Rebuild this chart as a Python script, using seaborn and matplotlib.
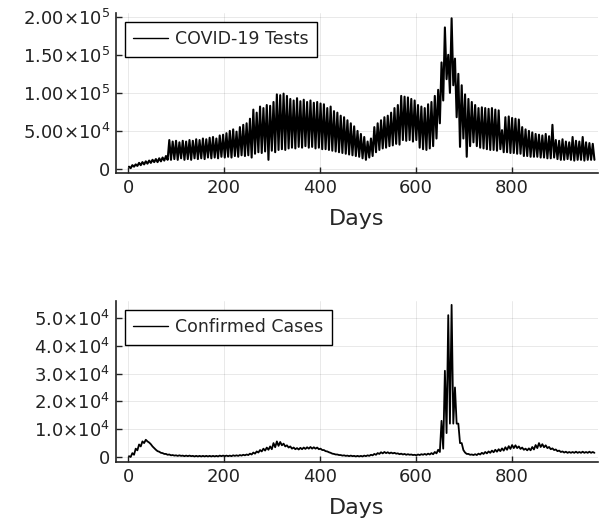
import numpy as np
import pandas as pd
import matplotlib
matplotlib.use("Agg")
import matplotlib.pyplot as plt
import seaborn as sns

# ---------------- data ----------------
# Weekly high / low of daily COVID-19 tests (thousands), week w starts at day 7*w
tests_high = [3, 5, 6, 8, 9, 10, 11, 12, 13, 14, 15, 17,
              38, 36, 37, 35, 37, 36, 38, 37, 39, 38, 40, 39, 41, 42, 40, 44, 45,
              47, 50, 52, 49, 55, 58, 60, 66,
              78, 74, 82, 80, 84, 83, 88,
              98, 97, 99, 96,
              92, 90, 93, 89, 91, 88, 90, 87, 88, 86,
              85, 80, 82, 76, 74, 70, 68, 64, 60, 56, 50, 46, 42,
              36, 40,
              55, 60, 64, 68, 70, 74, 80, 84,
              96, 95, 94, 92, 90,
              84, 82, 80, 85, 88,
              96, 104, 140, 186, 150, 198, 145, 125, 110, 98, 92,
              88, 84, 80, 81, 80, 79, 80, 78, 77,
              51,
              68, 69, 67, 66, 65,
              55, 52, 50, 48, 46,
              45, 44, 46, 43, 58,
              38, 37, 39, 36, 35, 42, 37, 36, 42, 35, 34, 33]
tests_low = [1, 3, 4, 5, 6, 7, 8, 9, 9, 10, 11, 12,
             12, 13, 12, 14, 12, 13, 12, 14, 13, 14, 13, 15, 14, 15, 14, 16, 15,
             16, 15, 17, 16, 18, 17, 18, 15,
             20, 22, 21, 23, 12, 24, 22,
             25, 26, 25, 27,
             28, 27, 29, 28, 30, 28, 29, 27, 28, 26,
             26, 25, 24, 23, 22, 21, 20, 19, 18, 17, 16, 14, 12,
             15, 17,
             22, 25, 27, 28, 30, 31, 33, 32,
             38, 37, 38, 36, 38,
             28, 26, 25, 27, 30,
             40, 60, 90, 118, 100, 110, 68, 29, 40, 16, 30,
             35, 30, 28, 27, 26, 25, 25, 24, 26,
             22,
             22, 21, 21, 20, 20,
             17, 17, 16, 16, 16,
             15, 15, 14, 14, 15,
             13, 12, 12, 13, 12, 11, 12, 12, 11, 12, 12, 12]

# Weekly high / low of daily confirmed cases (thousands)
cases_high = [0.3, 1.4, 3.0, 4.5, 5.6, 6.2, 5.2, 3.8, 2.6, 1.9, 1.4, 1.1, 0.9,
              0.7, 0.6, 0.6, 0.5, 0.5, 0.5, 0.4, 0.4, 0.4, 0.4, 0.4, 0.4, 0.4, 0.4,
              0.5, 0.5, 0.5, 0.5, 0.6, 0.6, 0.7, 0.8, 0.9,
              1.2, 1.6, 2.0, 2.5, 3.0, 3.4, 3.8, 5.0, 5.6, 5.4, 4.8, 4.2, 3.8, 3.4,
              3.2, 3.3, 3.4, 3.5, 3.6, 3.5, 3.4, 3.0, 2.5, 2.0, 1.5, 1.1, 0.9, 0.7,
              0.6, 0.5, 0.5, 0.4, 0.4, 0.4, 0.5, 0.6,
              0.8, 1.1, 1.4, 1.7, 1.8, 1.7, 1.6, 1.5, 1.3, 1.2, 1.1, 1.0, 0.9, 0.8,
              0.9, 1.0, 1.1, 1.2, 1.4, 1.8, 2.6,
              13.0, 31.0, 51.0, 54.7, 25.0, 12.0, 5.0, 1.6, 1.1,
              0.9, 1.0, 1.2, 1.5, 1.8, 2.0, 2.3, 2.6, 2.8, 3.1, 3.5, 3.9, 4.3, 4.2,
              3.8, 3.4, 3.0, 3.1, 3.6, 4.3, 5.0, 4.6, 4.2, 3.6, 3.1, 2.7, 2.3, 2.0,
              1.9, 1.8, 1.8, 1.9, 1.8, 1.9, 1.8, 1.9, 1.8]
cases_low = [0.0, 0.8, 2.4, 3.8, 5.0, 5.6, 4.6, 3.2, 2.1, 1.5, 1.1, 0.8, 0.6,
             0.5, 0.4, 0.4, 0.3, 0.3, 0.3, 0.2, 0.2, 0.2, 0.2, 0.2, 0.2, 0.2, 0.2,
             0.3, 0.3, 0.3, 0.3, 0.4, 0.4, 0.5, 0.6, 0.7,
             0.9, 1.2, 1.6, 2.0, 2.3, 2.6, 2.8, 3.5, 4.0, 4.2, 3.8, 3.4, 3.0, 2.8,
             2.7, 2.8, 2.9, 3.0, 3.0, 3.0, 2.8, 2.5, 2.1, 1.7, 1.2, 0.9, 0.7, 0.5,
             0.4, 0.3, 0.3, 0.2, 0.2, 0.2, 0.3, 0.4,
             0.6, 0.8, 1.1, 1.3, 1.4, 1.3, 1.3, 1.2, 1.0, 0.9, 0.8, 0.8, 0.7, 0.6,
             0.7, 0.8, 0.8, 0.9, 1.0, 1.3, 1.8,
             3.0, 8.6, 12.0, 12.0, 12.0, 5.0, 2.5, 1.1, 0.8,
             0.7, 0.7, 0.9, 1.1, 1.3, 1.5, 1.7, 1.9, 2.1, 2.3, 2.6, 2.9, 3.2, 3.2,
             2.9, 2.6, 2.4, 2.4, 2.7, 3.2, 3.6, 3.5, 3.2, 2.8, 2.5, 2.1, 1.8, 1.6,
             1.5, 1.5, 1.5, 1.5, 1.5, 1.5, 1.5, 1.5, 1.5]

tests_yticks = [0, 50000, 100000, 150000, 200000]
tests_ylabels = ["0", "5.00×10$^{4}$", "1.00×10$^{5}$",
                 "1.50×10$^{5}$", "2.00×10$^{5}$"]
cases_yticks = [0, 10000, 20000, 30000, 40000, 50000]
cases_ylabels = ["0", "1.0×10$^{4}$", "2.0×10$^{4}$", "3.0×10$^{4}$",
                 "4.0×10$^{4}$", "5.0×10$^{4}$"]
xticks = [0, 200, 400, 600, 800]
xlabel = "Days"
tests_label = "COVID-19 Tests"
cases_label = "Confirmed Cases"


def weekly_series(high, low):
    w = np.arange(len(high))
    days = np.empty(2 * len(high))
    vals = np.empty(2 * len(high))
    days[0::2] = 7 * w + 2
    days[1::2] = 7 * w + 5.5
    vals[0::2] = np.asarray(high) * 1000.0
    vals[1::2] = np.asarray(low) * 1000.0
    return pd.DataFrame({"day": days, "value": vals})


tests_df = weekly_series(tests_high, tests_low)
cases_df = weekly_series(cases_high, cases_low)

# ---------------- styling ----------------
sns.set_theme(style="white")
plt.rcParams["font.family"] = ["DejaVu Sans"]
plt.rcParams["mathtext.fontset"] = "dejavusans"
plt.rcParams["mathtext.default"] = "regular"

fig = plt.figure(figsize=(5.99, 5.25), dpi=100)
fig.patch.set_facecolor("white")

ax1 = fig.add_axes([0.1937, 0.6705, 0.8047, 0.3048])
ax2 = fig.add_axes([0.1937, 0.1200, 0.8047, 0.3067])


def style(ax, df, label, yticks, ylabels, ylim, lw):
    sns.lineplot(data=df, x="day", y="value", ax=ax, color="black",
                 linewidth=lw, label=label, estimator=None, sort=False)
    ax.set_xlim(-25, 979)
    ax.set_ylim(*ylim)
    ax.set_xticks(xticks)
    ax.set_xticklabels([str(t) for t in xticks])
    ax.set_yticks(yticks)
    ax.set_yticklabels(ylabels)
    ax.set_xlabel(xlabel, fontsize=16, labelpad=9)
    ax.set_ylabel("")
    for s in ["top", "right"]:
        ax.spines[s].set_visible(False)
    for s in ["left", "bottom"]:
        ax.spines[s].set_color("#222222")
        ax.spines[s].set_linewidth(1.2)
    ax.grid(True, color="black", alpha=0.1, linewidth=0.6)
    ax.tick_params(axis="both", direction="in", length=4, width=1.0,
                   color="#222222", labelsize=13, labelcolor="#222222", pad=4)
    ax.tick_params(axis="x", bottom=True, top=False)
    ax.tick_params(axis="y", left=True, right=False)
    leg = ax.legend(loc="upper left", fontsize=12.5, frameon=True, fancybox=False,
                    edgecolor="black", framealpha=1.0, handlelength=2.0,
                    handletextpad=0.4, borderpad=0.5, borderaxespad=0.5)
    leg.get_frame().set_linewidth(1.0)
    for h in leg.get_lines():
        h.set_linewidth(1.0)


style(ax1, tests_df, tests_label, tests_yticks, tests_ylabels, (-5300, 205000), 1.5)
style(ax2, cases_df, cases_label, cases_yticks, cases_ylabels, (-1800, 56100), 1.3)

fig.savefig("out.png", dpi=100, facecolor="white")
